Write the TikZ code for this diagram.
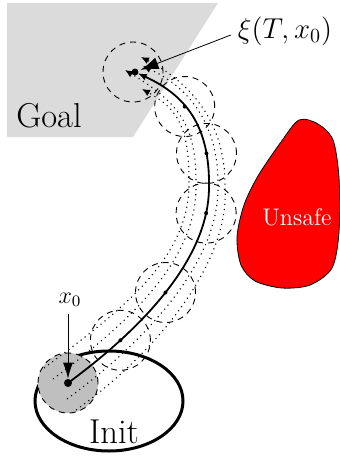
\documentclass[tikz,border=0pt]{standalone}
\usetikzlibrary{arrows.meta,positioning}

\tikzset{
  ball/.style={circle,draw=black,dash pattern=on 3pt off 2.5pt,line width=0.45pt,minimum size=30pt,inner sep=0pt},
  trajdot/.style={circle,fill=black,inner sep=0pt,minimum size=#1},
  trajdot/.default=2pt,
  tube/.style={dotted,line width=0.55pt,-{Latex[length=4pt,width=3.5pt]}},
  nominal/.style={line width=0.9pt,-{Latex[length=4.5pt,width=3.5pt]}},
}

\begin{document}
\begin{tikzpicture}[x=0.5pt,y=-0.5pt]
    \useasboundingbox (0,0) rectangle (340,462);
    \fill[black!14] (7,3) -- (218,3) -- (133,137) -- (7,137) -- cycle;
    \node[font=\LARGE] (goal) at (49,116) {Goal};
    \draw[fill=red,line width=0.4pt] plot[smooth cycle] coordinates {(299,120) (318,124) (333,140) (339,178) (339,232) (332,268) (310,285) (282,288) (255,281) (241,265) (237,237) (244,205) (258,176) (281,142)};
    \node[font=\large,text=white] (unsafe) at (297,217) {Unsafe};
    \draw[line width=1.5pt] (109,401) ellipse [x radius=37pt,y radius=25pt];
    \node[font=\LARGE] (init) at (114,432) {Init};

    \coordinate (p0) at (68,383);
    \coordinate (pm) at (209,187);
    \coordinate (p6) at (135,72);
    \node[ball,fill=gray!50] (b0) at (p0) {};

    % neighbouring trajectories
    \draw[tube] (44,368) .. controls (121,311) and (187,260) .. (189,187)
        .. controls (190,125) and (176,108) .. (142,89);
    \draw[tube] (53,379) .. controls (131,321) and (196,260) .. (196,187)
        .. controls (197,125) and (179,103) .. (125,70);
    \draw[tube] (67,399) .. controls (149,339) and (219,260) .. (218,187)
        .. controls (219,125) and (190,88) .. (143,66);
    \draw[tube] (76,410) .. controls (160,350) and (230,260) .. (225,187)
        .. controls (226,125) and (193,84) .. (141,57);

    % nominal trajectory
    \draw[nominal,shorten >=1.5pt] (p0) .. controls (140,330) and (209,260) ..
        node[trajdot,pos=0.25] (m1) {}
        node[trajdot,pos=0.5] (m2) {}
        node[trajdot,pos=0.88] (m3) {} (pm)
        .. controls (210,125) and (185,95) ..
        node[trajdot,pos=0.2] (m4) {}
        node[trajdot,pos=0.58] (m5) {} (p6);

    \foreach \i in {1,...,5}
        \node[ball] (b\i) at (m\i) {};
    \node[ball] (b6) at (133,72) {};

    \node[trajdot=4pt] (x0) at (p0) {};
    \node[trajdot=3.5pt] (xT) at (p6) {};

    \node[font=\large] (x0lbl) at (70,300) {$x_0$};
    \draw[-{Latex[length=8pt,width=5pt]}] (x0lbl.south -| x0) -- (x0);
    \node[font=\Large] (xi) at (285,31) {$\xi(T,x_0)$};
    \draw[-{Latex[length=9pt,width=6pt]},shorten >=1pt] ([yshift=-2pt]xi.west) -- (xT);
\end{tikzpicture}
\end{document}
